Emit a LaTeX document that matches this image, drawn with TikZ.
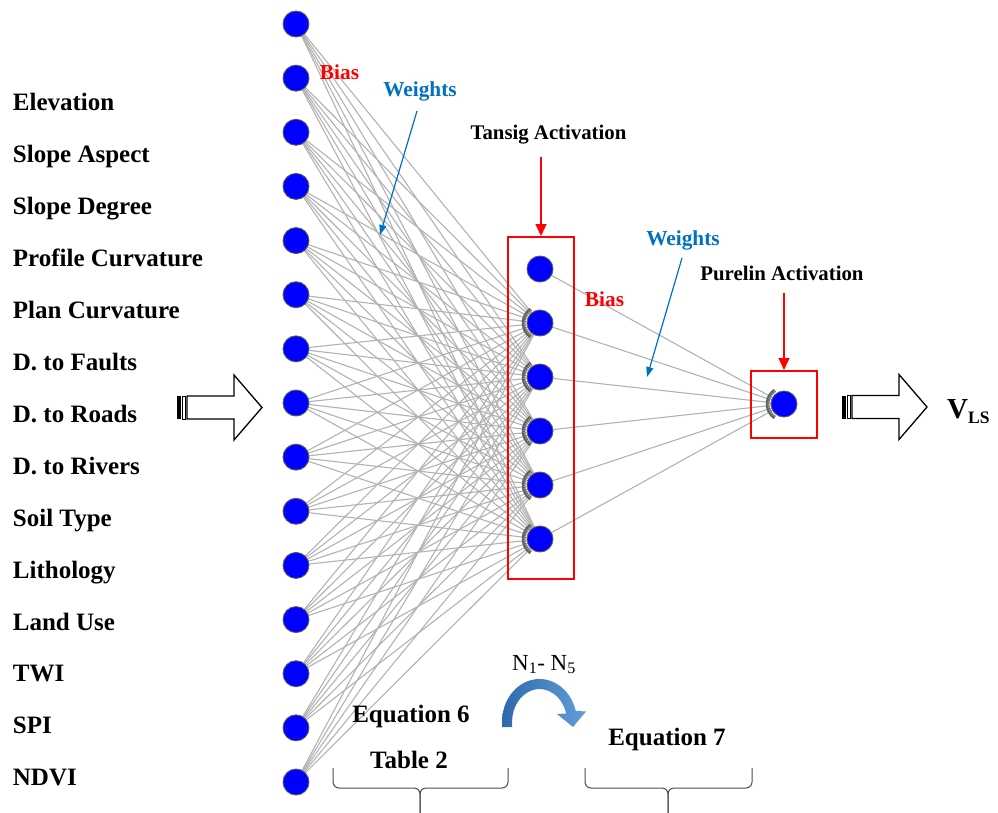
\documentclass[tikz,border=0pt]{standalone}
\usepackage{fontspec}
\setmainfont{Liberation Serif}
\usetikzlibrary{arrows.meta}

\definecolor{nodeblue}{RGB}{0,0,255}
\definecolor{wblue}{RGB}{0,112,192}
\definecolor{linkgray}{RGB}{178,178,178}
\definecolor{boxred}{RGB}{255,0,0}
\definecolor{curvdark}{RGB}{46,105,170}
\definecolor{curvlight}{RGB}{98,158,216}

\pgfdeclarelayer{bg}
\pgfsetlayers{bg,main}

\tikzset{
  stripedarrow/.pic={
    \fill[black] (0,-11.5) rectangle (3.5,11.5);
    \draw[line width=1pt] (5.5,-11.5) rectangle (8.5,11.5);
    \draw[line width=1.3pt, fill=white, line join=miter]
      (10,-11.5) -- (57,-11.5) -- (57,-32.5) -- (85,0) -- (57,32.5) -- (57,11.5) -- (10,11.5) -- cycle;
  }
}

\begin{document}
\begin{tikzpicture}[x=1pt, y=-1pt,
  neuron/.style={circle, fill=nodeblue, draw=black!65, line width=0.9pt,
    minimum size=26pt, inner sep=0pt},
  link/.style={draw=linkgray, line width=1.1pt},
  sumarc/.style={draw=black!62, line width=3.6pt},
  sumcomb/.style={draw=black!30, line width=2pt, dash pattern=on 0.7pt off 1.5pt},
  inlabel/.style={anchor=base west, inner sep=0pt,
    font=\fontsize{25}{28}\selectfont\bfseries},
  biglabel/.style={anchor=base, inner sep=0pt,
    font=\fontsize{25}{28}\selectfont\bfseries},
  actlabel/.style={anchor=base, inner sep=0pt,
    font=\fontsize{20.8}{24}\selectfont\bfseries},
  biaslabel/.style={anchor=base, inner sep=0pt, text=boxred,
    font=\fontsize{21.3}{24}\selectfont\bfseries},
  wlabel/.style={anchor=base, inner sep=0pt, text=wblue,
    font=\fontsize{21.3}{24}\selectfont\bfseries},
  redbox/.style={draw=boxred, line width=2pt, inner sep=0pt},
  redarrow/.style={draw=boxred, line width=1.3pt,
    -{Triangle[length=12pt, width=11pt]}},
  bluearrow/.style={draw=wblue, line width=1.2pt,
    -{Triangle[length=10pt, width=7pt]}},
  bracepath/.style={draw=black!70, line width=1pt, rounded corners=6pt}
]
\useasboundingbox (0,0) rectangle (998,813);

% input layer (first neuron is the bias unit)
\foreach \k in {0,...,14} {
  \node[neuron] (i\k) at (296, {24+54.143*\k}) {};
}

% hidden layer (first neuron is the bias unit)
\foreach \j in {0,...,5} {
  \node[neuron] (h\j) at (540, {269+54*\j}) {};
}

% output neuron
\node[neuron] (o) at (784, 404) {};

% connections and summation arcs
\begin{pgfonlayer}{bg}
  \foreach \k in {0,...,14} {
    \foreach \j in {1,...,5} {
      \draw[link] (i\k.center) -- (h\j.center);
    }
  }
  \foreach \j in {0,...,5} {
    \draw[link] (h\j.center) -- (o.center);
  }
  \foreach \n in {h1,h2,h3,h4,h5,o} {
    \draw[sumarc] ([shift={(124:16.5)}]\n.center) arc[start angle=124, end angle=236, radius=16.5];
    \draw[sumcomb] ([shift={(124:15.5)}]\n.center) arc[start angle=124, end angle=236, radius=15.5];
  }
\end{pgfonlayer}

% input variable names
\foreach \t [count=\c from 0] in {Elevation, Slope Aspect, Slope Degree,
    Profile Curvature, Plan Curvature, D. to Faults, D. to Roads,
    D. to Rivers, Soil Type, Lithology, Land Use, TWI, SPI, NDVI} {
  \node[inlabel] (lab\c) at (12.7, {111+51.9*\c}) {\t};
}

% block arrows in and out
\pic at (177, 407.5) {stripedarrow};
\pic at (842, 407) {stripedarrow};
\node[anchor=base west, inner sep=0pt] (vls) at (947, 418)
  {\fontsize{29}{32}\selectfont\bfseries V\raisebox{-5pt}{\fontsize{17.5}{20}\selectfont\bfseries LS}};

% activation boxes
\node[redbox, minimum width=66pt, minimum height=342pt] (hbox) at (541, 408) {};
\node[redbox, minimum width=66pt, minimum height=67pt] (obox) at (784, 404.5) {};

\node[actlabel] (tansig) at (548.5, 140) {Tansig Activation};
\node[actlabel] (purelin) at (782, 280) {Purelin Activation};
\coordinate (ta) at (541, 157);
\coordinate (pa) at (784, 293);
\draw[redarrow] (ta) -- (hbox.north);
\draw[redarrow] (pa) -- (obox.north);

% bias and weight annotations
\node[biaslabel] (bias1) at (339.5, 80) {Bias};
\node[biaslabel] (bias2) at (604.5, 306) {Bias};
\node[wlabel] (w1) at (420, 97) {Weights};
\node[wlabel] (w2) at (683, 245) {Weights};
\coordinate (w1s) at (417, 111);
\coordinate (w1e) at (380, 235);
\coordinate (w2s) at (682, 258);
\coordinate (w2e) at (647, 377);
\draw[bluearrow] (w1s) -- (w1e);
\draw[bluearrow] (w2s) -- (w2e);

% curved arrow between the two stages
\shade[left color=curvdark, right color=curvlight]
  (502,727) -- (502,722)
  arc[start angle=180, end angle=345, x radius=37.5, y radius=43]
  -- (586,711.5) -- (573,727) -- (557,714) -- (566.1,713.5)
  arc[start angle=345, end angle=180, x radius=27.5, y radius=33]
  -- (512,727) -- cycle;
\node[anchor=base, inner sep=0pt, font=\fontsize{23}{26}\selectfont] (nn) at (544, 670)
  {N\textsubscript{1}- N\textsubscript{5}};

% stage labels and braces
\node[biglabel] (eq6) at (411, 722) {Equation 6};
\node[biglabel] (tab2) at (409, 768) {Table 2};
\node[biglabel] (eq7) at (667, 745) {Equation 7};

\draw[bracepath] (333,768) -- (333,788) -- (420,788) -- (420,813);
\draw[bracepath] (508,768) -- (508,788) -- (420,788) -- (420,813);
\draw[bracepath] (585,768) -- (585,788) -- (668,788) -- (668,813);
\draw[bracepath] (752,768) -- (752,788) -- (668,788) -- (668,813);
\end{tikzpicture}
\end{document}
